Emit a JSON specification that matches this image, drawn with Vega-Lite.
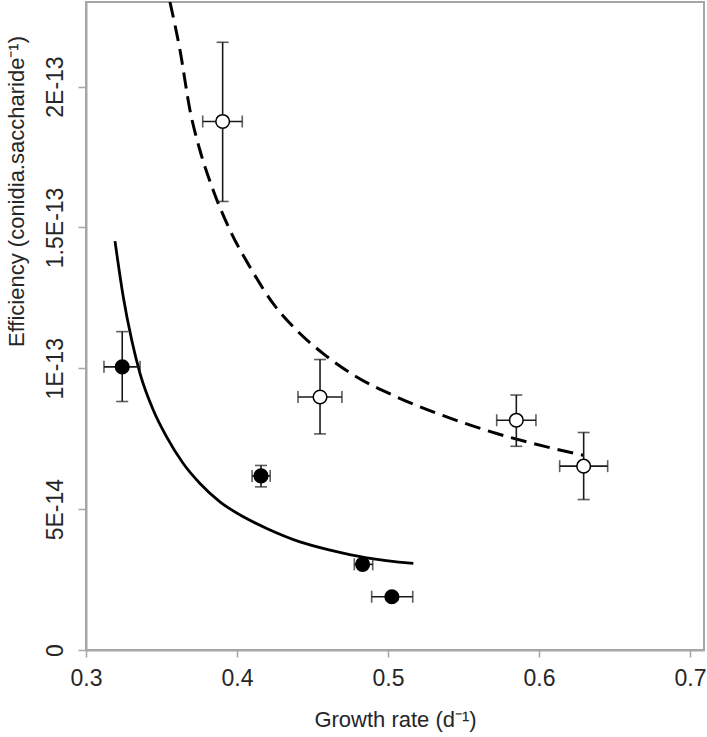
{
  "$schema": "https://vega.github.io/schema/vega-lite/v6.json",
  "width": 618,
  "height": 648,
  "autosize": {"type": "none"},
  "padding": {"left": 86, "top": 2, "right": 3, "bottom": 87},
  "background": "white",
  "config": {
    "font": "Liberation Sans",
    "view": {"stroke": "#a6a6a6", "strokeWidth": 2},
    "axis": {
      "grid": false,
      "domainColor": "#a6a6a6",
      "domainWidth": 2,
      "tickColor": "#a6a6a6",
      "tickWidth": 1.5,
      "labelColor": "#262626",
      "titleColor": "#262626",
      "labelFontSize": 23,
      "titleFontSize": 22,
      "titleFontWeight": "normal",
      "labelFlush": false
    },
    "axisX": {"tickSize": 7, "labelPadding": 10, "titleBaseline": "alphabetic", "titleY": 76},
    "axisY": {
      "tickSize": 8,
      "labelAngle": 270,
      "labelAlign": "center",
      "labelBaseline": "alphabetic",
      "labelPadding": 16,
      "titleAngle": 270,
      "titleBaseline": "alphabetic",
      "titleAlign": "center",
      "titleX": -63,
      "titleY": 189
    }
  },
  "datasets": {
    "pts": [
      {"group": "open", "x": 0.3905, "y": 1.876e-13, "xlo": 0.3773, "xhi": 0.4035, "ylo": 1.592e-13, "yhi": 2.157e-13},
      {"group": "open", "x": 0.455, "y": 0.898e-13, "xlo": 0.4404, "xhi": 0.4695, "ylo": 0.767e-13, "yhi": 1.031e-13},
      {"group": "open", "x": 0.585, "y": 0.8156e-13, "xlo": 0.572, "xhi": 0.598, "ylo": 0.723e-13, "yhi": 0.905e-13},
      {"group": "open", "x": 0.6296, "y": 0.6525e-13, "xlo": 0.6137, "xhi": 0.6455, "ylo": 0.534e-13, "yhi": 0.772e-13},
      {"group": "filled", "x": 0.324, "y": 1.005e-13, "xlo": 0.3119, "xhi": 0.3358, "ylo": 0.882e-13, "yhi": 1.13e-13},
      {"group": "filled", "x": 0.4159, "y": 0.618e-13, "xlo": 0.41, "xhi": 0.422, "ylo": 0.579e-13, "yhi": 0.655e-13},
      {"group": "filled", "x": 0.4832, "y": 0.304e-13, "xlo": 0.4777, "xhi": 0.4899, "ylo": 0.294e-13, "yhi": 0.314e-13},
      {"group": "filled", "x": 0.5026, "y": 0.189e-13, "xlo": 0.4892, "xhi": 0.5164, "ylo": 0.179e-13, "yhi": 0.199e-13}
    ],
    "fit": [
      {"group": "filled", "x": 0.3192, "y": 1.4514e-13},
      {"group": "filled", "x": 0.3247, "y": 1.2528e-13},
      {"group": "filled", "x": 0.3303, "y": 1.0993e-13},
      {"group": "filled", "x": 0.3358, "y": 0.9812e-13},
      {"group": "filled", "x": 0.3446, "y": 0.8511e-13},
      {"group": "filled", "x": 0.3534, "y": 0.7564e-13},
      {"group": "filled", "x": 0.3644, "y": 0.6621e-13},
      {"group": "filled", "x": 0.3755, "y": 0.5911e-13},
      {"group": "filled", "x": 0.3887, "y": 0.5259e-13},
      {"group": "filled", "x": 0.4042, "y": 0.4727e-13},
      {"group": "filled", "x": 0.4197, "y": 0.4316e-13},
      {"group": "filled", "x": 0.4417, "y": 0.384e-13},
      {"group": "filled", "x": 0.4638, "y": 0.3521e-13},
      {"group": "filled", "x": 0.4859, "y": 0.3273e-13},
      {"group": "filled", "x": 0.5168, "y": 0.3074e-13},
      {"group": "open", "x": 0.3556, "y": 2.3e-13},
      {"group": "open", "x": 0.3623, "y": 2.1277e-13},
      {"group": "open", "x": 0.3689, "y": 1.9149e-13},
      {"group": "open", "x": 0.3755, "y": 1.773e-13},
      {"group": "open", "x": 0.3843, "y": 1.6312e-13},
      {"group": "open", "x": 0.3954, "y": 1.4894e-13},
      {"group": "open", "x": 0.4086, "y": 1.3592e-13},
      {"group": "open", "x": 0.424, "y": 1.2294e-13},
      {"group": "open", "x": 0.4395, "y": 1.1348e-13},
      {"group": "open", "x": 0.4571, "y": 1.0521e-13},
      {"group": "open", "x": 0.4793, "y": 0.9691e-13},
      {"group": "open", "x": 0.5058, "y": 0.8982e-13},
      {"group": "open", "x": 0.5389, "y": 0.8273e-13},
      {"group": "open", "x": 0.572, "y": 0.7684e-13},
      {"group": "open", "x": 0.6051, "y": 0.7209e-13},
      {"group": "open", "x": 0.6293, "y": 0.6915e-13}
    ]
  },
  "layer": [
    {
      "data": {"name": "fit"},
      "transform": [{"filter": "datum.group == 'filled'"}],
      "mark": {"type": "line", "color": "black", "strokeWidth": 2.8, "interpolate": "monotone", "clip": true},
      "encoding": {
        "x": {"field": "x", "type": "quantitative", "scale": {"domain": [0.3, 0.7093], "nice": false, "zero": false}, "title": "Growth rate (d⁻¹)", "axis": {"values": [0.3, 0.4, 0.5, 0.6, 0.7], "format": ".1f"}},
        "y": {"field": "y", "type": "quantitative", "scale": {"domain": [0, 2.3e-13], "nice": false}, "title": "Efficiency (conidia.saccharide⁻¹)", "axis": {"values": [0, 5e-14, 1e-13, 1.5e-13, 2e-13], "labelExpr": "datum.value == 0 ? '0' : datum.value < 7e-14 ? '5E-14' : datum.value < 1.2e-13 ? '1E-13' : datum.value < 1.7e-13 ? '1.5E-13' : '2E-13'"}}
      }
    },
    {
      "data": {"name": "fit"},
      "transform": [{"filter": "datum.group == 'open'"}],
      "mark": {"type": "line", "color": "black", "strokeWidth": 3, "strokeDash": [16, 8], "interpolate": "monotone", "clip": true},
      "encoding": {
        "x": {"field": "x", "type": "quantitative", "title": "Growth rate (d⁻¹)"},
        "y": {"field": "y", "type": "quantitative", "title": "Efficiency (conidia.saccharide⁻¹)"}
      }
    },
    {
      "data": {"name": "pts"},
      "mark": {"type": "rule", "color": "#1a1a1a", "strokeWidth": 1.6},
      "encoding": {
        "x": {"field": "x", "type": "quantitative", "title": "Growth rate (d⁻¹)"},
        "y": {"field": "ylo", "type": "quantitative", "title": "Efficiency (conidia.saccharide⁻¹)"},
        "y2": {"field": "yhi"}
      }
    },
    {
      "data": {"name": "pts"},
      "mark": {"type": "rule", "color": "#1a1a1a", "strokeWidth": 1.6},
      "encoding": {
        "x": {"field": "xlo", "type": "quantitative", "title": "Growth rate (d⁻¹)"},
        "x2": {"field": "xhi"},
        "y": {"field": "y", "type": "quantitative", "title": "Efficiency (conidia.saccharide⁻¹)"}
      }
    },
    {
      "data": {"name": "pts"},
      "mark": {"type": "tick", "orient": "horizontal", "color": "#1a1a1a", "size": 12, "thickness": 1.6},
      "encoding": {
        "x": {"field": "x", "type": "quantitative", "title": "Growth rate (d⁻¹)"},
        "y": {"field": "ylo", "type": "quantitative", "title": "Efficiency (conidia.saccharide⁻¹)"}
      }
    },
    {
      "data": {"name": "pts"},
      "mark": {"type": "tick", "orient": "horizontal", "color": "#1a1a1a", "size": 12, "thickness": 1.6},
      "encoding": {
        "x": {"field": "x", "type": "quantitative", "title": "Growth rate (d⁻¹)"},
        "y": {"field": "yhi", "type": "quantitative", "title": "Efficiency (conidia.saccharide⁻¹)"}
      }
    },
    {
      "data": {"name": "pts"},
      "mark": {"type": "tick", "orient": "vertical", "color": "#1a1a1a", "size": 12, "thickness": 1.6},
      "encoding": {
        "x": {"field": "xlo", "type": "quantitative", "title": "Growth rate (d⁻¹)"},
        "y": {"field": "y", "type": "quantitative", "title": "Efficiency (conidia.saccharide⁻¹)"}
      }
    },
    {
      "data": {"name": "pts"},
      "mark": {"type": "tick", "orient": "vertical", "color": "#1a1a1a", "size": 12, "thickness": 1.6},
      "encoding": {
        "x": {"field": "xhi", "type": "quantitative", "title": "Growth rate (d⁻¹)"},
        "y": {"field": "y", "type": "quantitative", "title": "Efficiency (conidia.saccharide⁻¹)"}
      }
    },
    {
      "data": {"name": "pts"},
      "mark": {"type": "point", "filled": true, "shape": "circle", "size": 185, "stroke": "black", "strokeWidth": 1.5, "opacity": 1},
      "encoding": {
        "x": {"field": "x", "type": "quantitative", "title": "Growth rate (d⁻¹)"},
        "y": {"field": "y", "type": "quantitative", "title": "Efficiency (conidia.saccharide⁻¹)"},
        "fill": {"field": "group", "type": "nominal", "scale": {"domain": ["open", "filled"], "range": ["white", "black"]}, "legend": null}
      }
    }
  ]
}
